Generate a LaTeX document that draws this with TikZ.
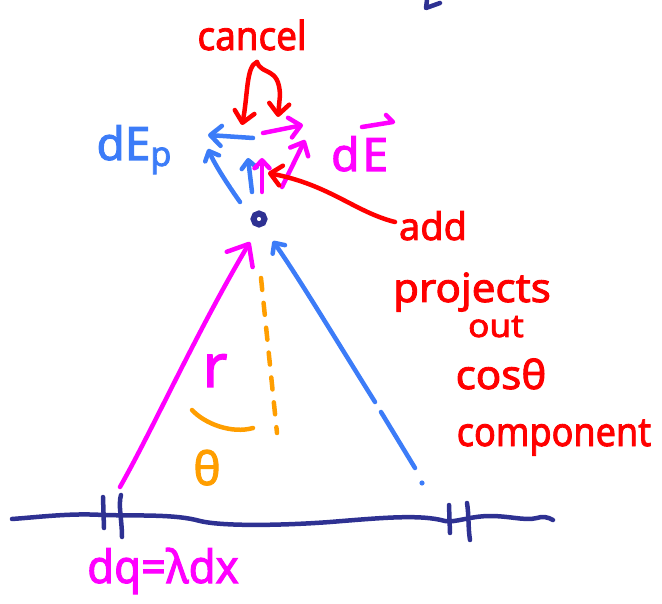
\documentclass[tikz,border=0pt]{standalone}
\usepackage{fontspec}
\setmainfont{Noto Sans}
\newfontfamily\handfont{Noto Sans}[FakeBold=2.2]
\usetikzlibrary{arrows.meta}
\definecolor{navy}{HTML}{2E3192}
\definecolor{pblue}{HTML}{3C7CF8}
\definecolor{pmag}{HTML}{FF00FF}
\definecolor{pred}{HTML}{FF0000}
\definecolor{porange}{HTML}{FF9E00}
\newcommand{\fs}[1]{\fontsize{#1}{#1}\selectfont}
\begin{document}
\begin{tikzpicture}[x=1pt,y=-1pt,
  pen/.style={line width=4.5pt,line cap=round,line join=round},
  bigtip/.style={-{Straight Barb[length=18pt,width=30pt,round]}},
  midtip/.style={-{Straight Barb[length=11pt,width=20pt,round]}},
  smalltip/.style={-{Straight Barb[length=8pt,width=15pt,round]}},
  hand/.style={inner sep=0pt,anchor=base,font=\handfont\bfseries}]
\useasboundingbox (0,0) rectangle (662,604);
% ---- line of charge
\draw[pen,navy] (12,519) .. controls (40,517) and (70,513) .. (103,515)
  .. controls (140,516) and (175,514) .. (200,521)
  .. controls (225,527) and (290,525) .. (330,522)
  .. controls (380,518) and (420,514) .. (445,521)
  .. controls (455,523) and (470,516) .. (490,516)
  .. controls (510,516) and (525,521) .. (537,518)
  .. controls (542,516) and (548,517) .. (553,520);
\draw[pen,navy] (103,497) -- (104,528);
\draw[pen,navy] (121,495) .. controls (118,505) and (122,520) .. (122,537);
\draw[pen,navy] (449,505) -- (450,533);
\draw[pen,navy] (467,503) .. controls (469,515) and (468,528) .. (470,540);
\draw[pen,navy] (427,0) -- (426,8) -- (440,3);
% ---- field point
\coordinate (P) at (259,219);
\draw[navy,line width=6pt] (P) circle (5.5);
% ---- r vectors
\coordinate (mB) at (120,487);
\coordinate (mT) at (250,242);
\draw[pen,pmag,bigtip] (mB) .. controls (155,425) and (195,335) .. (mT);
\coordinate (bT) at (273,241);
\coordinate (bA) at (375,402);
\coordinate (bB1) at (381,412);
\coordinate (bB2) at (415,468);
\draw[pen,pblue,smalltip] (bA) .. controls (330,330) and (300,280) .. (bT);
\draw[pen,pblue] (bB1) -- (bB2);
\fill[pblue] (422,483) circle (2.6);
% ---- vertical dashed and angle
\coordinate (oT) at (261,278);
\coordinate (oB) at (277,433);
\draw[pen,porange,dash pattern=on 12pt off 13pt] (oT) -- (oB);
\draw[pen,porange] (192,410) .. controls (205,424) and (232,434) .. (253,428);
% ---- field components at P
\coordinate (a1s) at (253,138); \coordinate (a1t) at (208,135);
\coordinate (a2s) at (263,133); \coordinate (a2t) at (303,125);
\coordinate (a3s) at (240,202); \coordinate (a3t) at (208,149);
\coordinate (a4s) at (252,192); \coordinate (a4t) at (248,158);
\coordinate (a5s) at (262,192); \coordinate (a5t) at (262,158);
\coordinate (a6s) at (282,187); \coordinate (a6t) at (305,140);
\draw[pen,pblue,midtip] (a1s) -- (a1t);
\draw[pen,pmag,midtip] (a2s) -- (a2t);
\draw[pen,pblue,smalltip] (a3s) .. controls (228,185) and (215,165) .. (a3t);
\draw[pen,pblue,smalltip] (a4s) -- (a4t);
\draw[pen,pmag,smalltip] (a5s) -- (a5t);
\draw[pen,pmag,midtip] (a6s) -- (a6t);
% ---- labels
\node[hand,text=pblue] (dEp) at (134,160) {\fs{46}dE\raisebox{-6pt}{\fs{34}p}};
\node[hand,text=pmag,anchor=base west] (dE) at (331,171) {\fs{46}d\hspace{3pt}E};
\draw[pen,pmag] (362,127) -- (393,122) -- (386,115);
\node[hand,text=pred] (cancel) at (252,50) {\fs{40}\scalebox{0.92}[1]{cancel}};
\coordinate (cs) at (257,62);
\coordinate (cl) at (242,125);
\coordinate (cr) at (278,117);
\draw[pen,pred,midtip] (cs) .. controls (246,66) and (248,95) .. (cl);
\draw[pen,pred,midtip] (cs) .. controls (262,76) and (279,66) .. (280,95) -- (cr);
\node[hand,text=pred] (add) at (433,240) {\fs{38}add};
\coordinate (as) at (395,222);
\coordinate (at) at (268,173);
\draw[pen,pred,midtip] (as) .. controls (355,212) and (330,185) .. (at);
\node[hand,text=pred] (proj) at (472,302) {\fs{40}\scalebox{1.05}[1]{projects}};
\node[hand,text=pred] (out) at (496,337) {\fs{32}\scalebox{1.1}[1]{out}};
\node[hand,text=pred] (cos) at (501,389) {\fs{40}\scalebox{1.05}[1]{cosθ}};
\node[hand,text=pred] (comp) at (554,446) {\fs{40}\scalebox{0.9}[1]{component}};
\node[hand,text=pmag] (r) at (215,387) {\fs{60}r};
\node[hand,text=porange] (th) at (207,485) {\fs{46}θ};
\node[hand,text=pmag] (dq) at (163,583) {\fs{46}\scalebox{0.95}[1]{dq=λdx}};
\end{tikzpicture}
\end{document}
